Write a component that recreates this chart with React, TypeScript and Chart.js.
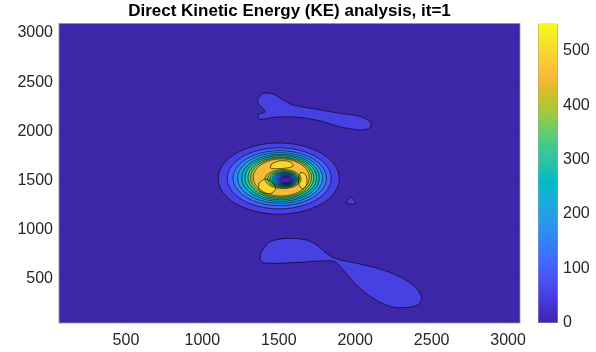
import { useEffect, useRef } from "react";
import { Chart, registerables } from "chart.js";
Chart.register(...registerables);

const titleText = "Direct Kinetic Energy (KE) analysis, it=1";
const xMin = 62;
const xMax = 3078;
const yMin = 53;
const yMax = 3097;
const xTicks = [500, 1000, 1500, 2000, 2500, 3000];
const yTicks = [500, 1000, 1500, 2000, 2500, 3000];
const cMax = 550;
const cTicks = [0, 100, 200, 300, 400, 500];

// rising contour rings around the main peak (level, centre, semi-axes)
const ringLevels = [50, 100, 150, 200, 250, 300, 350, 400, 450];
const ringCx = [1500, 1503, 1506, 1509, 1511, 1513, 1514, 1515, 1516];
const ringCy = [1521, 1523, 1525, 1527, 1528, 1529, 1530, 1531, 1532];
const ringRx = [396, 340, 305, 278, 254, 234, 215, 199, 183];
const ringRy = [361, 310, 279, 257, 239, 224, 210, 199, 188];

// falling contours inside the central hole
const holeLevels = [450, 400, 350, 300, 250, 200, 150, 100, 50];
const holeCx = [1528, 1531, 1534, 1537, 1539, 1541, 1543, 1545, 1546];
const holeCy = [1516, 1515, 1514, 1513, 1512, 1511, 1510, 1508, 1506];
const holeRx = [118, 104, 92, 82, 73, 64, 55, 45, 35];
const holeRy = [97, 87, 78, 70, 62, 55, 47, 39, 30];

// irregular level-50 regions
const upperBlob = [
  [1365, 2336], [1398, 2387], [1463, 2380], [1528, 2319], [1594, 2268],
  [1747, 2225], [1899, 2184], [2030, 2152], [2100, 2095], [2098, 2040],
  [2040, 2014], [1899, 2048], [1790, 2099], [1681, 2133], [1572, 2149],
  [1463, 2143], [1376, 2123], [1365, 2167], [1409, 2200], [1365, 2286],
];
const lowerBlob = [
  [1376, 700], [1387, 777], [1430, 863], [1474, 896], [1572, 914],
  [1681, 896], [1747, 846], [1812, 761], [1866, 710], [2008, 660],
  [2161, 602], [2291, 523], [2390, 422], [2433, 320], [2418, 246],
  [2346, 212], [2237, 218], [2117, 304], [2008, 439], [1921, 591],
  [1866, 676], [1768, 683], [1638, 670], [1485, 660], [1398, 666],
];
const smallTriangle = [
  [1971, 1336], [2008, 1269], [1971, 1262], [1938, 1275],
];
// level-500 patches
const patchA = [
  [1370, 1476], [1409, 1516], [1455, 1486], [1481, 1425], [1455, 1374], [1402, 1374], [1370, 1415],
];
const patchB = [
  [1453, 1672], [1507, 1702], [1572, 1692], [1594, 1651], [1551, 1628], [1485, 1622], [1446, 1628],
];
const patchC = [
  [1644, 1587], [1677, 1557], [1683, 1465], [1657, 1415], [1631, 1465], [1631, 1537],
];

const parulaMap = [
  [0.2422, 0.1504, 0.6603], [0.2504, 0.165, 0.7076], [0.2578, 0.1818, 0.7511], [0.2647, 0.1978, 0.7952],
  [0.2706, 0.2147, 0.8364], [0.2751, 0.2342, 0.871], [0.2783, 0.2559, 0.8991], [0.2803, 0.2782, 0.9221],
  [0.2813, 0.3006, 0.9414], [0.281, 0.3228, 0.9579], [0.2795, 0.3447, 0.9717], [0.276, 0.3667, 0.9829],
  [0.2699, 0.3892, 0.9906], [0.2602, 0.4123, 0.9952], [0.244, 0.4358, 0.9988], [0.2206, 0.4603, 0.9973],
  [0.1963, 0.4847, 0.9892], [0.1834, 0.5074, 0.9798], [0.1786, 0.5289, 0.9682], [0.1764, 0.5499, 0.952],
  [0.1687, 0.5703, 0.9359], [0.154, 0.5902, 0.9218], [0.146, 0.6091, 0.9079], [0.138, 0.6276, 0.8973],
  [0.1248, 0.6459, 0.8883], [0.1113, 0.6635, 0.8763], [0.0952, 0.6798, 0.8598], [0.0689, 0.6948, 0.8394],
  [0.0297, 0.7082, 0.8163], [0.0036, 0.7203, 0.7917], [0.0067, 0.7312, 0.766], [0.0433, 0.7411, 0.7394],
  [0.0964, 0.75, 0.712], [0.1408, 0.7584, 0.6842], [0.1717, 0.767, 0.6554], [0.1938, 0.7758, 0.6251],
  [0.2161, 0.7843, 0.5923], [0.247, 0.7918, 0.5567], [0.2906, 0.7973, 0.5188], [0.3406, 0.8008, 0.4789],
  [0.3909, 0.8029, 0.4354], [0.4456, 0.8024, 0.3909], [0.5044, 0.7993, 0.348], [0.5616, 0.7942, 0.3045],
  [0.6174, 0.7876, 0.2612], [0.672, 0.7793, 0.2227], [0.7242, 0.7698, 0.191], [0.7738, 0.7598, 0.1646],
  [0.8203, 0.7498, 0.1535], [0.8634, 0.7406, 0.1596], [0.9035, 0.733, 0.1774], [0.9393, 0.7288, 0.21],
  [0.9728, 0.7298, 0.2394], [0.9956, 0.7434, 0.2371], [0.997, 0.7659, 0.2199], [0.9952, 0.7893, 0.2028],
  [0.9892, 0.8136, 0.1885], [0.9786, 0.8386, 0.1766], [0.9676, 0.8639, 0.1643], [0.961, 0.889, 0.1537],
  [0.9597, 0.9135, 0.1423], [0.9628, 0.9373, 0.1265], [0.9691, 0.9606, 0.1064], [0.9769, 0.9839, 0.0805],
];

function parula(t: number): string {
  const n = parulaMap.length - 1;
  const tt = Math.max(0, Math.min(1, t)) * n;
  const i = Math.floor(tt);
  const f = tt - i;
  const a = parulaMap[i];
  const b = parulaMap[Math.min(i + 1, n)];
  const c = a.map((v, k) => Math.round((v + (b[k] - v) * f) * 255));
  return `rgb(${c[0]},${c[1]},${c[2]})`;
}

function ellipse(cx: number, cy: number, rx: number, ry: number) {
  const pts: { x: number; y: number }[] = [];
  const n = 72;
  for (let k = 0; k <= n; k++) {
    const a = (k / n) * Math.PI * 2;
    pts.push({ x: cx + rx * Math.cos(a), y: cy + ry * Math.sin(a) });
  }
  return pts;
}

function poly(p: number[][]) {
  const pts = p.map(([x, y]) => ({ x, y }));
  pts.push({ x: p[0][0], y: p[0][1] });
  return pts;
}

const FONT = "'Liberation Sans', Arial, Helvetica, sans-serif";
const TEXT = "#262626";
const plainTick = (v: any) => String(v);

export default function App() {
  const mainRef = useRef<HTMLCanvasElement>(null);
  const cbRef = useRef<HTMLCanvasElement>(null);

  useEffect(() => {
    const shapes: { data: { x: number; y: number }[]; color: string; tension: number }[] = [];
    shapes.push({ data: poly(upperBlob), color: parula(50 / cMax), tension: 0.3 });
    shapes.push({ data: poly(lowerBlob), color: parula(50 / cMax), tension: 0.3 });
    shapes.push({ data: poly(smallTriangle), color: parula(50 / cMax), tension: 0.05 });
    ringLevels.forEach((lv, i) => {
      shapes.push({ data: ellipse(ringCx[i], ringCy[i], ringRx[i], ringRy[i]), color: parula(lv / cMax), tension: 0.1 });
    });
    [patchA, patchB, patchC].forEach((p) => {
      shapes.push({ data: poly(p), color: parula(500 / cMax), tension: 0.3 });
    });
    holeLevels.forEach((lv, i) => {
      shapes.push({ data: ellipse(holeCx[i], holeCy[i], holeRx[i], holeRy[i]), color: parula((lv - 50) / cMax), tension: 0.1 });
    });

    const datasets = shapes.map((s, i) => ({
      data: s.data,
      fill: "shape",
      backgroundColor: s.color,
      borderColor: "rgba(0,0,0,0.85)",
      borderWidth: 0.7,
      pointRadius: 0,
      tension: s.tension,
      order: -i,
    }));

    const bgPlugin = {
      id: "fieldBg",
      beforeDraw(chart: any) {
        const { ctx, chartArea: a } = chart;
        ctx.save();
        ctx.fillStyle = parula(0);
        ctx.fillRect(a.left, a.top, a.right - a.left, a.bottom - a.top);
        ctx.restore();
      },
      afterDraw(chart: any) {
        const { ctx, chartArea: a, scales } = chart;
        ctx.save();
        ctx.strokeStyle = "rgba(38,38,38,0.6)";
        ctx.lineWidth = 0.6;
        ctx.beginPath();
        xTicks.forEach((v) => {
          const px = scales.x.getPixelForValue(v);
          ctx.moveTo(px, a.bottom);
          ctx.lineTo(px, a.bottom - 4);
          ctx.moveTo(px, a.top);
          ctx.lineTo(px, a.top + 4);
        });
        yTicks.forEach((v) => {
          const py = scales.y.getPixelForValue(v);
          ctx.moveTo(a.left, py);
          ctx.lineTo(a.left + 4, py);
          ctx.moveTo(a.right, py);
          ctx.lineTo(a.right - 4, py);
        });
        ctx.stroke();
        ctx.strokeStyle = "rgba(150,150,150,1)";
        ctx.lineWidth = 0.8;
        ctx.strokeRect(a.left, a.top, a.right - a.left, a.bottom - a.top);
        ctx.restore();
      },
    };

    const main = new Chart(mainRef.current!, {
      type: "line",
      data: { datasets: datasets as any },
      options: {
        animation: false,
        responsive: false,
        events: [],
        layout: { padding: { left: 0, right: 76, top: 0, bottom: 0 } },
        plugins: {
          legend: { display: false },
          tooltip: { enabled: false },
          filler: { drawTime: "beforeDatasetsDraw" } as any,
          title: {
            display: true,
            text: titleText,
            fullSize: false,
            color: "#000",
            font: { family: FONT, size: 17, weight: "bold" },
            padding: { top: 1.5, bottom: 1.6 },
          },
        },
        scales: {
          x: {
            type: "linear",
            min: xMin,
            max: xMax,
            afterBuildTicks: (s: any) => {
              s.ticks = xTicks.map((v) => ({ value: v }));
            },
            afterFit: (s: any) => {
              s.height = 29;
            },
            grid: { display: false, drawTicks: false },
            border: { display: false },
            ticks: { padding: 8, color: TEXT, font: { family: FONT, size: 16 }, maxRotation: 0, autoSkip: false, callback: plainTick },
          },
          y: {
            type: "linear",
            min: yMin,
            max: yMax,
            afterBuildTicks: (s: any) => {
              s.ticks = yTicks.map((v) => ({ value: v }));
            },
            afterFit: (s: any) => {
              s.width = 59;
            },
            grid: { display: false, drawTicks: false },
            border: { display: false },
            ticks: { padding: 6, color: TEXT, font: { family: FONT, size: 16 }, autoSkip: false, callback: plainTick },
          },
        },
      },
      plugins: [bgPlugin],
    });

    const cbGradient = (c: any) => {
      const ch = c.chart;
      const ys = ch.scales && ch.scales.y;
      const area = ch.chartArea;
      if (!ys || !area) return parula(0.5);
      const y0 = ys.getPixelForValue(0);
      const y1 = ys.getPixelForValue(cMax);
      if (!Number.isFinite(y0) || !Number.isFinite(y1) || y0 === y1) return parula(0.5);
      const g = ch.ctx.createLinearGradient(0, y0, 0, y1);
      for (let k = 0; k <= 32; k++) g.addColorStop(k / 32, parula(k / 32));
      return g;
    };

    const cb = new Chart(cbRef.current!, {
      type: "bar",
      data: {
        labels: ["c"],
        datasets: [
          {
            data: [[0, cMax]] as any,
            backgroundColor: cbGradient,
            borderColor: "rgba(160,160,160,1)",
            borderWidth: 0.8,
            borderSkipped: false,
            barPercentage: 1,
            categoryPercentage: 1,
          },
        ],
      },
      options: {
        animation: false,
        responsive: false,
        events: [],
        layout: { padding: { left: 18, right: 0, top: 23.5, bottom: 29 } },
        plugins: { legend: { display: false }, tooltip: { enabled: false } },
        scales: {
          x: { display: false },
          y: {
            position: "right",
            min: 0,
            max: cMax,
            afterBuildTicks: (s: any) => {
              s.ticks = cTicks.map((v) => ({ value: v }));
            },
            afterFit: (s: any) => {
              s.width = 38;
            },
            grid: { display: false, drawTicks: false },
            border: { display: false },
            ticks: { padding: 5, color: TEXT, font: { family: FONT, size: 16 }, callback: plainTick },
          },
        },
      },
    });
    cb.update();

    return () => {
      main.destroy();
      cb.destroy();
    };
  }, []);

  return (
    <div style={{ position: "fixed", left: 0, top: 0, width: 596, height: 352, background: "#fff" }}>
      <canvas ref={mainRef} width={596} height={352} style={{ position: "absolute", left: 0, top: 0 }} />
      <canvas ref={cbRef} width={76} height={352} style={{ position: "absolute", left: 520, top: 0 }} />
    </div>
  );
}
